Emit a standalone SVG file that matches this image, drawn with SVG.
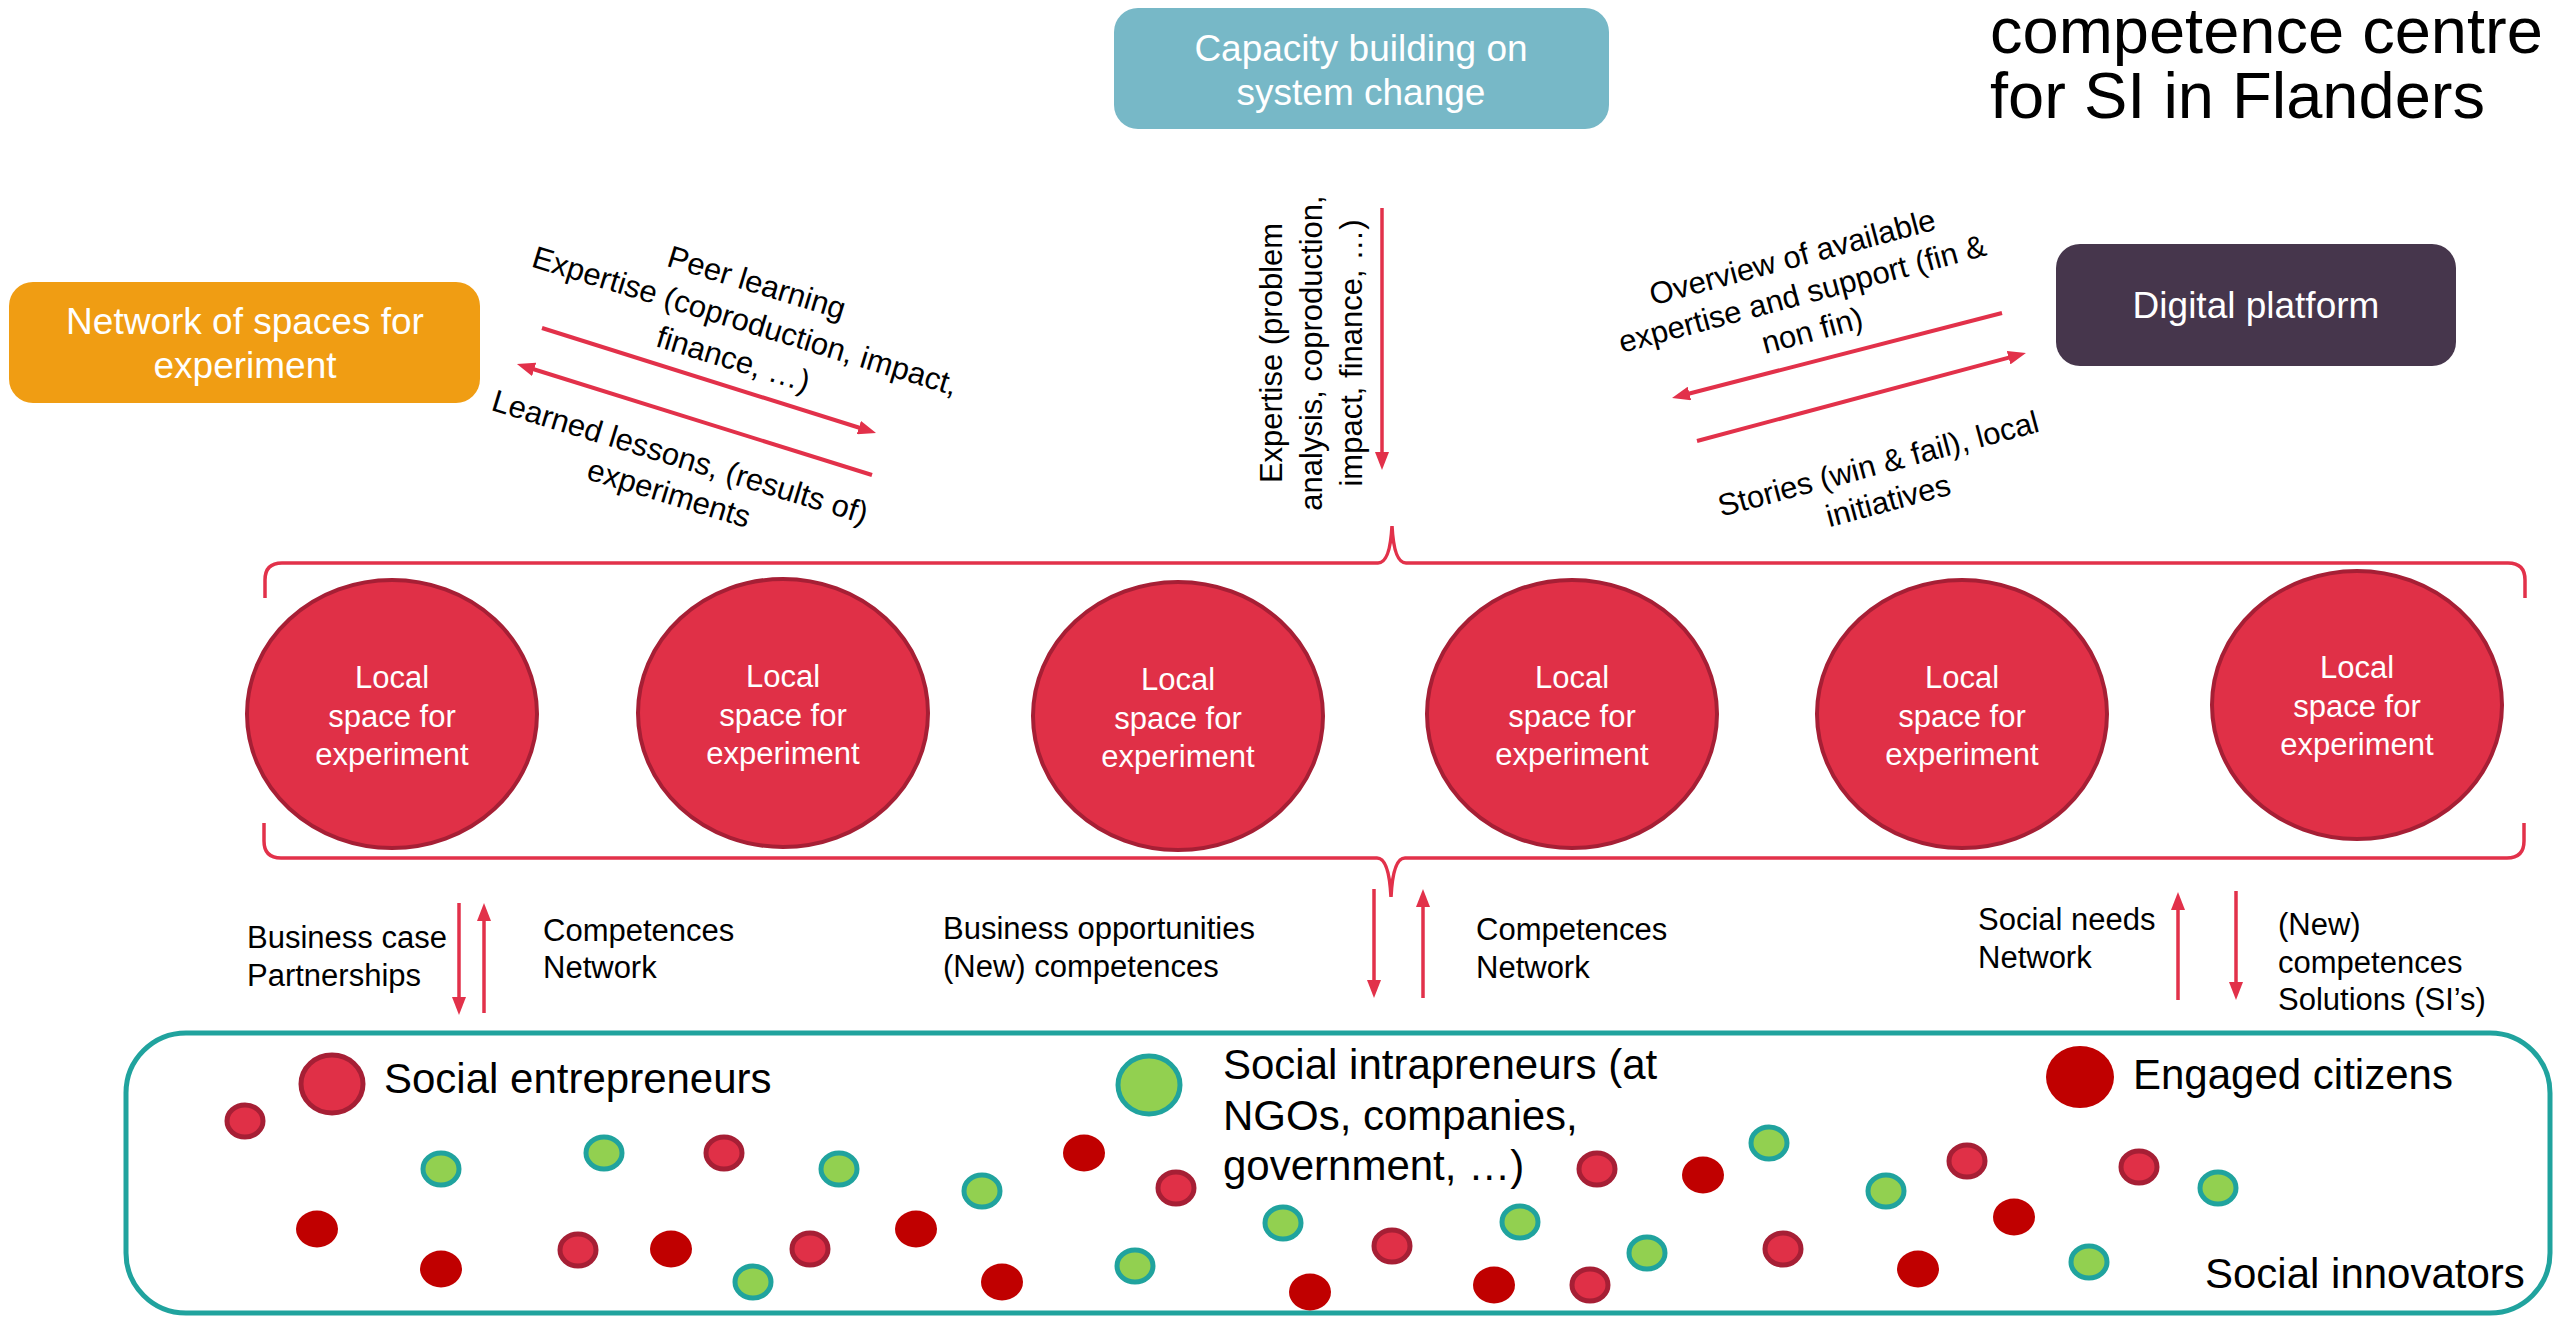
<svg xmlns="http://www.w3.org/2000/svg" width="2554" height="1317" viewBox="0 0 2554 1317">
<defs>
<style>
text{font-family:"Liberation Sans",Arial,sans-serif}
.lbl{font-size:31px;fill:#000}
.box{font-size:37px;fill:#fff}
.ell{font-size:31px;fill:#fff}
.leg{font-size:42px;fill:#000}
.ttl{font-size:65px;fill:#000}
.arr{stroke:#e2314a;stroke-width:4;fill:none;marker-end:url(#ah)}
.arr3{stroke:#e2314a;stroke-width:3.5;fill:none;marker-end:url(#ah)}
.brk{stroke:#e2314a;stroke-width:3.5;fill:none}
.loc{fill:#e03047;stroke:#a61f35;stroke-width:4}
.se{fill:#e03047;stroke:#a61f35;stroke-width:5}
.si{fill:#92d050;stroke:#20a39e;stroke-width:5}
.ec{fill:#c00000}
</style>
<marker id="ah" markerUnits="userSpaceOnUse" markerWidth="18" markerHeight="14" refX="8" refY="7" orient="auto">
<path d="M0,0 L18,7 L0,14 z" fill="#e2314a"/>
</marker>
</defs>
<rect width="2554" height="1317" fill="#fff"/>

<g id="title">
<text class="ttl" x="1990" y="53">competence centre</text>
<text class="ttl" x="1990" y="118">for SI in Flanders</text>
</g>

<g id="capacity">
<rect x="1114" y="8" width="495" height="121" rx="24" fill="#77b8c7"/>
<text class="box" text-anchor="middle"><tspan x="1361" y="61">Capacity building on</tspan><tspan x="1361" y="105">system change</tspan></text>
</g>

<g id="network">
<rect x="9" y="282" width="471" height="121" rx="24" fill="#f09d13"/>
<text class="box" text-anchor="middle"><tspan x="245" y="334">Network of spaces for</tspan><tspan x="245" y="378">experiment</tspan></text>
</g>

<g id="digital">
<rect x="2056" y="244" width="400" height="122" rx="24" fill="#46364c"/>
<text class="box" text-anchor="middle" x="2256" y="318">Digital platform</text>
</g>

<g id="connectors">
<line class="arr" x1="542" y1="328" x2="866.5" y2="430"/>
<line class="arr" x1="872" y1="475" x2="526.5" y2="367"/>
<line class="arr" x1="2002" y1="313" x2="1681.7" y2="395.5"/>
<line class="arr" x1="1697" y1="441" x2="2016.3" y2="355.6"/>
<line class="arr3" x1="1382" y1="208" x2="1382" y2="460"/>
<line class="arr3" x1="459" y1="903" x2="459" y2="1005"/>
<line class="arr3" x1="484" y1="1013" x2="484" y2="913"/>
<line class="arr3" x1="1374" y1="889" x2="1374" y2="988"/>
<line class="arr3" x1="1423" y1="998" x2="1423" y2="899"/>
<line class="arr3" x1="2178" y1="1000" x2="2178" y2="902"/>
<line class="arr3" x1="2236" y1="891" x2="2236" y2="990"/>
<path class="brk" d="M265,598 L265,580 Q265,563 282,563 L1378,563 Q1390,563 1392,526 Q1394,563 1406,563 L2508,563 Q2525,563 2525,580 L2525,598"/>
<path class="brk" d="M264,823 L264,841 Q264,858 281,858 L1377,858 Q1389,858 1391,897 Q1393,858 1405,858 L2507,858 Q2524,858 2524,841 L2524,823"/>
</g>

<g id="label-peer">
<g transform="translate(742,331) rotate(17)">
<text class="lbl" text-anchor="middle"><tspan x="0" y="-40">Peer learning</tspan><tspan x="0" y="0">Expertise (coproduction, impact,</tspan><tspan x="0" y="40">finance, …)</tspan></text>
</g>
<g transform="translate(677,467) rotate(17)">
<text class="lbl" text-anchor="middle"><tspan x="0" y="0">Learned lessons, (results of)</tspan><tspan x="0" y="38">experiments</tspan></text>
</g>
</g>

<g id="label-overview">
<g transform="translate(1805,304) rotate(-15)">
<text class="lbl" text-anchor="middle"><tspan x="0" y="-38">Overview of available</tspan><tspan x="0" y="0">expertise and support (fin &amp;</tspan><tspan x="0" y="38">non fin)</tspan></text>
</g>
<g transform="translate(1881,474) rotate(-15)">
<text class="lbl" text-anchor="middle"><tspan x="0" y="0">Stories (win &amp; fail), local</tspan><tspan x="0" y="38">initiatives</tspan></text>
</g>
</g>

<g id="label-expertise">
<g transform="translate(1282,353) rotate(-90)">
<text class="lbl" text-anchor="middle"><tspan x="0" y="0">Expertise (problem</tspan><tspan x="0" y="40">analysis, coproduction,</tspan><tspan x="0" y="80">impact, finance, …)</tspan></text>
</g>
</g>

<g id="local1"><ellipse class="loc" cx="392" cy="714" rx="145" ry="134"/><text class="ell" text-anchor="middle"><tspan x="392" y="688">Local</tspan><tspan x="392" y="727">space for</tspan><tspan x="392" y="765">experiment</tspan></text></g>
<g id="local2"><ellipse class="loc" cx="783" cy="713" rx="145" ry="134"/><text class="ell" text-anchor="middle"><tspan x="783" y="687">Local</tspan><tspan x="783" y="726">space for</tspan><tspan x="783" y="764">experiment</tspan></text></g>
<g id="local3"><ellipse class="loc" cx="1178" cy="716" rx="145" ry="134"/><text class="ell" text-anchor="middle"><tspan x="1178" y="690">Local</tspan><tspan x="1178" y="729">space for</tspan><tspan x="1178" y="767">experiment</tspan></text></g>
<g id="local4"><ellipse class="loc" cx="1572" cy="714" rx="145" ry="134"/><text class="ell" text-anchor="middle"><tspan x="1572" y="688">Local</tspan><tspan x="1572" y="727">space for</tspan><tspan x="1572" y="765">experiment</tspan></text></g>
<g id="local5"><ellipse class="loc" cx="1962" cy="714" rx="145" ry="134"/><text class="ell" text-anchor="middle"><tspan x="1962" y="688">Local</tspan><tspan x="1962" y="727">space for</tspan><tspan x="1962" y="765">experiment</tspan></text></g>
<g id="local6"><ellipse class="loc" cx="2357" cy="705" rx="145" ry="134"/><text class="ell" text-anchor="middle"><tspan x="2357" y="678">Local</tspan><tspan x="2357" y="717">space for</tspan><tspan x="2357" y="755">experiment</tspan></text></g>

<g id="flow-labels">
<text class="lbl"><tspan x="247" y="948">Business case</tspan><tspan x="247" y="986">Partnerships</tspan></text>
<text class="lbl"><tspan x="543" y="941">Competences</tspan><tspan x="543" y="978">Network</tspan></text>
<text class="lbl"><tspan x="943" y="939">Business opportunities</tspan><tspan x="943" y="977">(New) competences</tspan></text>
<text class="lbl"><tspan x="1476" y="940">Competences</tspan><tspan x="1476" y="978">Network</tspan></text>
<text class="lbl"><tspan x="1978" y="930">Social needs</tspan><tspan x="1978" y="968">Network</tspan></text>
<text class="lbl"><tspan x="2278" y="935">(New)</tspan><tspan x="2278" y="973">competences</tspan><tspan x="2278" y="1010">Solutions (SI’s)</tspan></text>
</g>

<g id="social-innovators">
<rect x="126" y="1033" width="2424" height="280" rx="60" fill="none" stroke="#20a39e" stroke-width="5"/>
<ellipse class="se" cx="332" cy="1084" rx="31" ry="29"/>
<text class="leg" x="384" y="1093">Social entrepreneurs</text>
<ellipse class="si" cx="1149" cy="1085" rx="31" ry="29"/>
<text class="leg"><tspan x="1223" y="1079">Social intrapreneurs (at</tspan><tspan x="1223" y="1130">NGOs, companies,</tspan><tspan x="1223" y="1180">government, …)</tspan></text>
<ellipse class="ec" cx="2080" cy="1077" rx="34" ry="31"/>
<text class="leg" x="2133" y="1089">Engaged citizens</text>
<text class="leg" x="2205" y="1288">Social innovators</text>
<g id="dots">
<ellipse class="se" cx="245" cy="1121" rx="18" ry="16"/>
<ellipse class="si" cx="441" cy="1169" rx="18" ry="16"/>
<ellipse class="si" cx="604" cy="1153" rx="18" ry="16"/>
<ellipse class="se" cx="724" cy="1153" rx="18" ry="16"/>
<ellipse class="si" cx="839" cy="1169" rx="18" ry="16"/>
<ellipse class="ec" cx="1084" cy="1153" rx="21" ry="18.5"/>
<ellipse class="si" cx="982" cy="1191" rx="18" ry="16"/>
<ellipse class="se" cx="1176" cy="1188" rx="18" ry="16"/>
<ellipse class="ec" cx="317" cy="1229" rx="21" ry="18.5"/>
<ellipse class="ec" cx="441" cy="1269" rx="21" ry="18.5"/>
<ellipse class="se" cx="578" cy="1250" rx="18" ry="16"/>
<ellipse class="ec" cx="671" cy="1249" rx="21" ry="18.5"/>
<ellipse class="se" cx="810" cy="1249" rx="18" ry="16"/>
<ellipse class="si" cx="753" cy="1282" rx="18" ry="16"/>
<ellipse class="ec" cx="916" cy="1229" rx="21" ry="18.5"/>
<ellipse class="ec" cx="1002" cy="1282" rx="21" ry="18.5"/>
<ellipse class="si" cx="1135" cy="1266" rx="18" ry="16"/>
<ellipse class="si" cx="1283" cy="1223" rx="18" ry="16"/>
<ellipse class="se" cx="1597" cy="1169" rx="18" ry="16"/>
<ellipse class="ec" cx="1703" cy="1175" rx="21" ry="18.5"/>
<ellipse class="si" cx="1769" cy="1143" rx="18" ry="16"/>
<ellipse class="se" cx="1392" cy="1246" rx="18" ry="16"/>
<ellipse class="ec" cx="1310" cy="1292" rx="21" ry="18.5"/>
<ellipse class="si" cx="1520" cy="1222" rx="18" ry="16"/>
<ellipse class="ec" cx="1494" cy="1285" rx="21" ry="18.5"/>
<ellipse class="se" cx="1590" cy="1285" rx="18" ry="16"/>
<ellipse class="si" cx="1647" cy="1253" rx="18" ry="16"/>
<ellipse class="se" cx="1783" cy="1249" rx="18" ry="16"/>
<ellipse class="si" cx="1886" cy="1191" rx="18" ry="16"/>
<ellipse class="se" cx="1967" cy="1161" rx="18" ry="16"/>
<ellipse class="ec" cx="2014" cy="1217" rx="21" ry="18.5"/>
<ellipse class="ec" cx="1918" cy="1269" rx="21" ry="18.5"/>
<ellipse class="se" cx="2139" cy="1167" rx="18" ry="16"/>
<ellipse class="si" cx="2218" cy="1188" rx="18" ry="16"/>
<ellipse class="si" cx="2089" cy="1262" rx="18" ry="16"/>
</g>
</g>
</svg>
